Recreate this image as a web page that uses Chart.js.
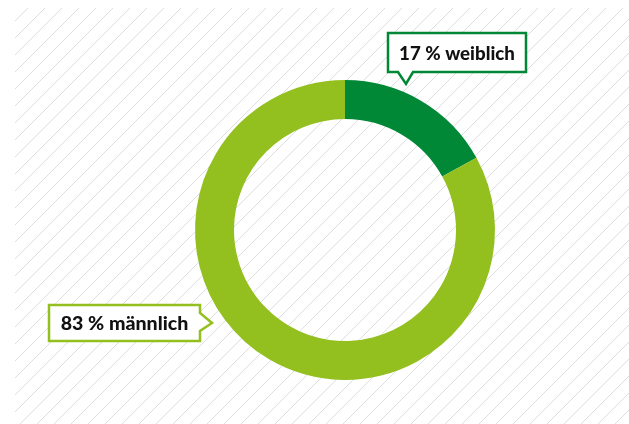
<!DOCTYPE html>
<html>
<head>
<meta charset="utf-8">
<script src="https://cdn.jsdelivr.net/npm/chart.js@4/dist/chart.umd.min.js"></script>
<style>
html,body{margin:0;padding:0;background:#fff;}
#wrap{width:629px;height:424px;position:relative;}
</style>
</head>
<body>
<div id="wrap"><canvas id="c" width="629" height="424"></canvas></div>
<script>
const categories = ["weiblich", "männlich"];
const shares = [17, 83];
const labelTexts = ["17 % weiblich", "83 % männlich"];
const colors = ["#008837", "#93c01f"];

const hatchPlugin = {
  id: 'hatch',
  beforeDraw(chart) {
    const ctx = chart.ctx;
    const x0 = 15, y0 = 8, x1 = chart.width, y1 = chart.height;
    ctx.save();
    ctx.fillStyle = '#ffffff';
    ctx.fillRect(0, 0, chart.width, chart.height);
    ctx.beginPath();
    ctx.rect(x0, y0, x1 - x0, y1 - y0);
    ctx.clip();
    ctx.strokeStyle = '#dedede';
    ctx.lineWidth = 1;
    const step = 17;
    for (let k = -500; k < 1200; k += step) {
      ctx.beginPath();
      ctx.moveTo(k, y1 + 10);
      ctx.lineTo(k + (y1 + 10), 0);
      ctx.stroke();
    }
    ctx.restore();
  }
};

function drawCallout(ctx, box, notch, color, text, targetW) {
  ctx.save();
  ctx.lineWidth = 2.5;
  ctx.strokeStyle = color;
  ctx.fillStyle = '#ffffff';
  ctx.lineJoin = 'miter';
  ctx.beginPath();
  const {x, y, w, h} = box;
  if (notch.side === 'bottom') {
    ctx.moveTo(x, y);
    ctx.lineTo(x + w, y);
    ctx.lineTo(x + w, y + h);
    ctx.lineTo(notch.b, y + h);
    ctx.lineTo(notch.tx, notch.ty);
    ctx.lineTo(notch.a, y + h);
    ctx.lineTo(x, y + h);
    ctx.closePath();
  } else {
    ctx.moveTo(x, y);
    ctx.lineTo(x + w, y);
    ctx.lineTo(x + w, notch.a);
    ctx.lineTo(notch.tx, notch.ty);
    ctx.lineTo(x + w, notch.b);
    ctx.lineTo(x + w, y + h);
    ctx.lineTo(x, y + h);
    ctx.closePath();
  }
  ctx.fill();
  ctx.stroke();
  ctx.fillStyle = '#111111';
  let size = 18;
  ctx.font = '900 ' + size + 'px Lato, "Open Sans", sans-serif';
  const m = ctx.measureText(text).width;
  if (targetW && m > 0) {
    size = Math.max(14, Math.min(20, size * targetW / m));
    ctx.font = '900 ' + size.toFixed(1) + 'px Lato, "Open Sans", sans-serif';
  }
  ctx.textAlign = 'center';
  ctx.textBaseline = 'middle';
  ctx.fillText(text, x + w / 2, y + h / 2 + 1);
  ctx.restore();
}

const calloutPlugin = {
  id: 'callouts',
  afterDraw(chart) {
    const ctx = chart.ctx;
    drawCallout(ctx, {x: 388, y: 33, w: 138, h: 39},
      {side: 'bottom', a: 398, b: 413, tx: 406, ty: 84}, colors[0], labelTexts[0], 116);
    drawCallout(ctx, {x: 49, y: 305, w: 151, h: 36},
      {side: 'right', a: 313, b: 331, tx: 212, ty: 323}, colors[1], labelTexts[1], 128);
  }
};

new Chart(document.getElementById('c'), {
  type: 'doughnut',
  data: {
    labels: categories,
    datasets: [{
      data: shares,
      backgroundColor: colors,
      borderWidth: 0,
      hoverOffset: 0
    }]
  },
  options: {
    responsive: false,
    animation: false,
    cutout: '74%',
    rotation: 0,
    layout: { padding: { left: 195, right: 134, top: 80, bottom: 44 } },
    plugins: {
      legend: { display: false },
      tooltip: { enabled: false }
    }
  },
  plugins: [hatchPlugin, calloutPlugin]
});
</script>
</body>
</html>
